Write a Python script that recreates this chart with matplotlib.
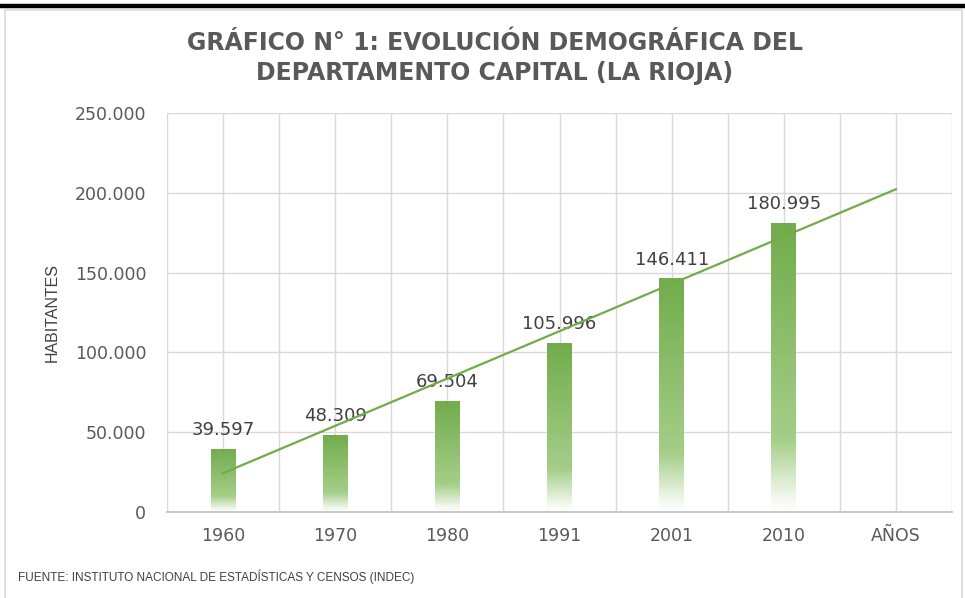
import numpy as np
import matplotlib.pyplot as plt
from matplotlib.ticker import FuncFormatter, MultipleLocator
from matplotlib.patches import Rectangle
from matplotlib.lines import Line2D

categories = ["1960", "1970", "1980", "1991", "2001", "2010", "AÑOS"]
years = ["1960", "1970", "1980", "1991", "2001", "2010"]
habitantes = [39597, 48309, 69504, 105996, 146411, 180995]
y_ticks = [0, 50000, 100000, 150000, 200000, 250000]

title = "GRÁFICO N° 1: EVOLUCIÓN DEMOGRÁFICA DEL\nDEPARTAMENTO CAPITAL (LA RIOJA)"
fuente = "FUENTE: INSTITUTO NACIONAL DE ESTADÍSTICAS Y CENSOS (INDEC)"

narrow = ["Liberation Sans Narrow", "Liberation Sans", "DejaVu Sans"]


def miles(v, pos=None):
    return f"{v:,.0f}".replace(",", ".")


fig = plt.figure(figsize=(9.65, 5.98), dpi=100)
ax = fig.add_axes([167 / 965, 1 - 512 / 598, 785 / 965, 399 / 598])

# chart area border and the black rule on top
fig.patches.append(Rectangle((5 / 965, -0.05), 957 / 965, 1 - 9.5 / 598 + 0.05,
                             transform=fig.transFigure, fill=False,
                             edgecolor="#D9D9D9", linewidth=1.2))
fig.lines.append(Line2D([0, 1], [1 - 5.5 / 598] * 2, transform=fig.transFigure,
                        color="black", linewidth=3.2))

x = np.arange(len(categories))
xb = x[:len(habitantes)]

# gradient fill for the bars (dark green top -> white bottom)
stops = np.array([0.0, 0.05, 0.25, 1.0])
cols = np.array([[255, 255, 255], [242, 248, 237], [160, 204, 131], [106, 168, 66]]) / 255
t = np.linspace(0, 1, 256)
grad = np.stack([np.interp(t, stops, cols[:, i]) for i in range(3)], axis=1)
grad = grad[:, None, :]

bars = ax.bar(xb, habitantes, width=0.22, color="none", edgecolor="none", zorder=2)
for b in bars:
    im = ax.imshow(grad, extent=[b.get_x(), b.get_x() + b.get_width(), 0, b.get_height()],
                   origin="lower", aspect="auto", zorder=2, alpha=0.95)
    im.set_clip_path(b)
    ax.annotate(miles(b.get_height()), (b.get_x() + b.get_width() / 2, b.get_height()),
                xytext=(0, 7), textcoords="offset points", ha="center", va="bottom",
                fontsize=13, color="#404040")

# linear trend, forecast one period forward
m, c = np.polyfit(xb, habitantes, 1)
xt = np.array([0, len(categories) - 1])
ax.plot(xt, m * xt + c, color="#70AD47", linewidth=1.6, zorder=3)

ax.set_xlim(-0.5, len(categories) - 0.5)
ax.set_ylim(0, 250000)
ax.set_xticks(x)
ax.set_xticklabels(categories)
ax.xaxis.set_minor_locator(MultipleLocator(1, offset=0.5))
ax.set_yticks(y_ticks)
ax.yaxis.set_major_formatter(FuncFormatter(miles))

ax.grid(True, which="both", axis="x", color="#D9D9D9", linewidth=1, zorder=0)
ax.grid(True, which="major", axis="y", color="#D9D9D9", linewidth=1, zorder=0)
ax.set_axisbelow(True)
for s in ["top", "right", "left"]:
    ax.spines[s].set_visible(False)
ax.spines["bottom"].set_color("#BFBFBF")
ax.spines["bottom"].set_linewidth(1.2)
ax.tick_params(axis="both", which="both", length=0, labelsize=12.5, colors="#595959")
ax.tick_params(axis="y", pad=15)
ax.tick_params(axis="x", pad=11)

fig.text(52 / 965, 1 - 312 / 598, "HABITANTES", rotation=90, ha="center", va="center",
         fontsize=11.5, color="#404040", family=narrow)
fig.text(495 / 965, 1 - 58 / 598, title, ha="center", va="center", fontsize=17,
         fontweight="bold", color="#595959", linespacing=1.3)
fig.text(18 / 965, 1 - 577 / 598, fuente, ha="left", va="center", fontsize=8.5,
         color="#404040", family=narrow)

fig.savefig("out.png", dpi=100)
